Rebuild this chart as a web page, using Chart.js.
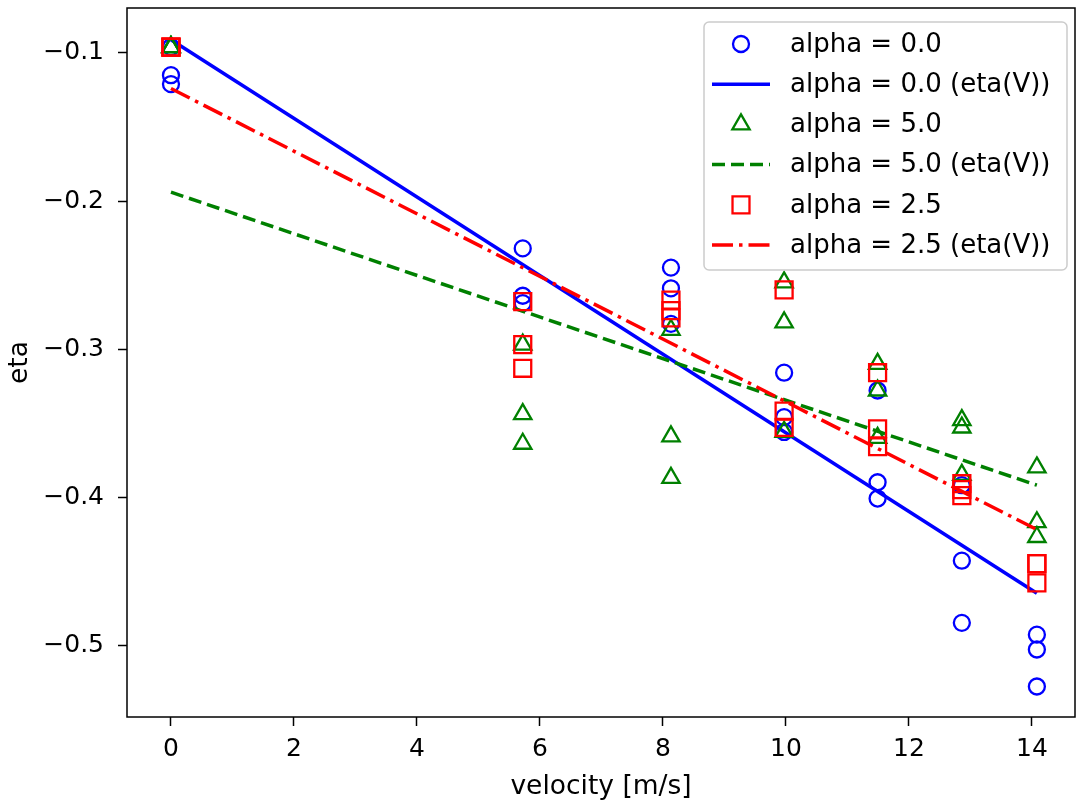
<!DOCTYPE html>
<html lang="en">
<head>
<meta charset="UTF-8">
<title>eta vs velocity</title>
<script src="https://cdn.jsdelivr.net/npm/chart.js"></script>
<style>
  body { margin: 0; background: #fff; }
  #wrap { width: 1076px; height: 805px; }
</style>
</head>
<body>
<div id="wrap"><canvas id="myChart" width="1076" height="805"></canvas></div>
<script>
// velocities [m/s] at which eta was measured
const velocities = [0, 5.72, 8.13, 9.97, 11.49, 12.86, 14.08];

// measured eta, grouped per velocity
const etaAlpha0 = [
  [-0.096, -0.115, -0.121],
  [-0.232, -0.264, -0.269],
  [-0.245, -0.259, -0.283],
  [-0.316, -0.346, -0.356],
  [-0.328, -0.390, -0.401],
  [-0.392, -0.443, -0.485],
  [-0.493, -0.503, -0.528]
];
const etaAlpha5 = [
  [-0.096, -0.096, -0.096],
  [-0.297, -0.344, -0.364],
  [-0.287, -0.359, -0.387],
  [-0.255, -0.282, -0.356],
  [-0.310, -0.328, -0.360],
  [-0.348, -0.353, -0.385],
  [-0.380, -0.417, -0.427]
];
const etaAlpha25 = [
  [-0.096, -0.096, -0.096],
  [-0.268, -0.297, -0.313],
  [-0.267, -0.274, -0.279],
  [-0.260, -0.342, -0.353],
  [-0.316, -0.354, -0.366],
  [-0.391, -0.395, -0.399],
  [-0.445, -0.458, -0.445]
];

// fitted eta(V) lines
const fitV = [0, 14.08];
const fitAlpha0 = [-0.091, -0.465];
const fitAlpha5 = [-0.194, -0.392];
const fitAlpha25 = [-0.124, -0.422];

const xTicks = [0, 2, 4, 6, 8, 10, 12, 14];
const yTicks = [-0.5, -0.4, -0.3, -0.2, -0.1];

function toPoints(groups) {
  const pts = [];
  for (let i = 0; i < velocities.length; i++) {
    for (const e of groups[i]) pts.push({ x: velocities[i], y: e });
  }
  return pts;
}
function toLine(ys) {
  return fitV.map((v, i) => ({ x: v, y: ys[i] }));
}

const FONT = 'DejaVu Sans';

const datasets = [
  { label: 'alpha = 0.0', data: toPoints(etaAlpha0), pointStyle: 'circle', pointRadius: 8,
    borderColor: '#0000ff', backgroundColor: 'rgba(0,0,0,0)', pointBorderWidth: 2.3, showLine: false },
  { label: 'alpha = 0.0 (eta(V))', data: toLine(fitAlpha0), showLine: true, pointRadius: 0,
    borderColor: '#0000ff', borderWidth: 3.5 },
  { label: 'alpha = 5.0', data: toPoints(etaAlpha5), pointStyle: 'triangle', pointRadius: 10,
    borderColor: '#008000', backgroundColor: 'rgba(0,0,0,0)', pointBorderWidth: 2.3, showLine: false },
  { label: 'alpha = 5.0 (eta(V))', data: toLine(fitAlpha5), showLine: true, pointRadius: 0,
    borderColor: '#008000', borderWidth: 3.5, borderDash: [13, 6] },
  { label: 'alpha = 2.5', data: toPoints(etaAlpha25), pointStyle: 'rect', pointRadius: 12,
    borderColor: '#ff0000', backgroundColor: 'rgba(0,0,0,0)', pointBorderWidth: 2.3, showLine: false },
  { label: 'alpha = 2.5 (eta(V))', data: toLine(fitAlpha25), showLine: true, pointRadius: 0,
    borderColor: '#ff0000', borderWidth: 3.5, borderDash: [21, 6, 3.5, 6] }
];
datasets.forEach((d, i) => { d.order = datasets.length - i; });

// frame around the axes + legend inside the plot, matplotlib style
const framePlugin = {
  id: 'frameAndLegend',
  afterDatasetsDraw(chart) {
    const ctx = chart.ctx;
    const a = chart.chartArea;
    ctx.save();
    ctx.strokeStyle = '#000';
    ctx.lineWidth = 1.5;
    ctx.strokeRect(a.left, a.top, a.right - a.left, a.bottom - a.top);

    // legend box
    const bw = 363, bh = 248;
    const bx = a.right - 8 - bw, by = a.top + 14;
    ctx.beginPath();
    ctx.roundRect(bx, by, bw, bh, 5);
    ctx.fillStyle = 'rgba(255,255,255,0.8)';
    ctx.fill();
    ctx.strokeStyle = '#cccccc';
    ctx.lineWidth = 1.5;
    ctx.stroke();

    ctx.font = '26px "' + FONT + '"';
    ctx.textBaseline = 'middle';
    ctx.textAlign = 'left';
    chart.data.datasets.forEach((d, i) => {
      const cy = by + 22 + i * 40.2;
      const cx = bx + 37;
      if (d.showLine) {
        ctx.beginPath();
        ctx.setLineDash(d.borderDash || []);
        ctx.strokeStyle = d.borderColor;
        ctx.lineWidth = d.borderWidth;
        ctx.moveTo(bx + 8, cy);
        ctx.lineTo(bx + 66, cy);
        ctx.stroke();
        ctx.setLineDash([]);
      } else {
        ctx.strokeStyle = d.borderColor;
        ctx.fillStyle = 'rgba(0,0,0,0)';
        ctx.lineWidth = d.pointBorderWidth;
        Chart.helpers.drawPoint(ctx, {
          pointStyle: d.pointStyle, radius: d.pointRadius, borderWidth: d.pointBorderWidth, rotation: 0
        }, cx, cy);
      }
      ctx.fillStyle = '#000';
      ctx.fillText(d.label, bx + 86, cy + 1);
    });
    ctx.restore();
  }
};

const tickFont = { family: FONT, size: 25 };
const titleFont = { family: FONT, size: 26.5 };

function fixBox(s) {
  s.paddingTop = 0; s.paddingBottom = 0; s.paddingLeft = 0; s.paddingRight = 0;
}

new Chart(document.getElementById('myChart'), {
  type: 'scatter',
  data: { datasets: datasets },
  options: {
    responsive: false,
    animation: false,
    layout: { autoPadding: false, padding: { top: 8, right: 1, left: 0, bottom: 0 } },
    plugins: { legend: { display: false }, tooltip: { enabled: false } },
    scales: {
      x: {
        type: 'linear', min: -0.715, max: 14.7,
        afterBuildTicks: s => { s.ticks = xTicks.map(v => ({ value: v })); },
        afterFit: s => { s.height = 88; fixBox(s); },
        grid: { drawOnChartArea: false, drawTicks: true, tickLength: 9, tickColor: '#000', tickWidth: 1.5 },
        border: { display: false },
        ticks: { color: '#000', font: tickFont, padding: 8, maxRotation: 0,
          callback: v => String(v) },
        title: { display: true, text: 'velocity [m/s]', color: '#000', font: titleFont, padding: { top: 0, bottom: 2 } }
      },
      y: {
        type: 'linear', min: -0.5486, max: -0.0696,
        afterBuildTicks: s => { s.ticks = yTicks.map(v => ({ value: v })); },
        afterFit: s => { s.width = 127; fixBox(s); },
        grid: { drawOnChartArea: false, drawTicks: true, tickLength: 9, tickColor: '#000', tickWidth: 1.5 },
        border: { display: false },
        ticks: { color: '#000', font: tickFont, padding: 14,
          callback: v => v.toFixed(1).replace('-', '\u2212') },
        title: { display: true, text: 'eta', color: '#000', font: titleFont, padding: { top: 4, bottom: 0 } }
      }
    }
  },
  plugins: [framePlugin]
});
</script>
</body>
</html>
